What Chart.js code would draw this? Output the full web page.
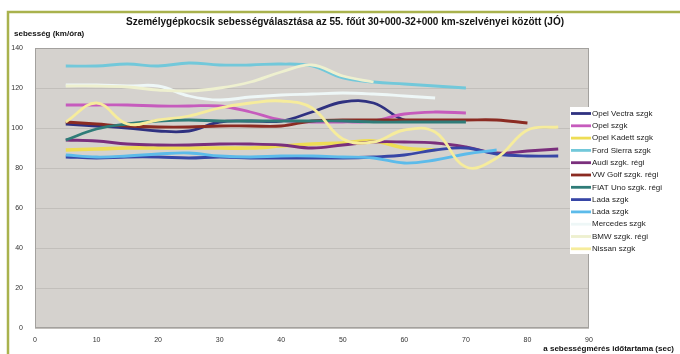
<!DOCTYPE html>
<html>
<head>
<meta charset="utf-8">
<title>Személygépkocsik sebességválasztása</title>
<script src="https://cdn.jsdelivr.net/npm/chart.js@4/dist/chart.umd.min.js"></script>
<style>
  html, body { margin: 0; padding: 0; background: #fff; }
  #speedChart { display: block; }
</style>
</head>
<body>
<canvas id="speedChart" width="680" height="354"></canvas>
<script>
// measuring times (sec) shared by every series
const seconds = [5, 10, 15, 20, 25, 30, 35, 40, 45, 50, 55, 60, 65, 70, 75, 80, 85];

// speeds (km/h); shorter series simply stop earlier
const opelVectra = [102, 101, 100, 98.5, 98.5, 103, 103.5, 103.5, 108, 113, 112.5, 104, 103.5];
const opel       = [111.5, 111.5, 111.5, 111, 111, 111, 108, 104, 103, 103, 103.5, 107, 108, 107.5];
const opelKadett = [89, 89.5, 90, 90, 90, 90, 90, 91, 92, 92.5, 93.5, 90, 89];
const fordSierra = [131, 131, 132, 131, 132.5, 131.5, 131.5, 132, 131, 125, 123, 122, 121, 120];
const audi       = [94, 93.5, 92, 91.5, 91.5, 92, 92, 91.5, 90, 91.5, 93, 93, 92.5, 90.5, 87.5, 88.5, 89.5];
const vwGolf     = [103, 102, 101, 100.5, 100.5, 101, 101, 101, 103.5, 104, 104, 104, 104, 104, 104, 102.5];
const fiatUno    = [94, 99.5, 102, 103.5, 104, 103.5, 103.5, 103.5, 103.5, 103.5, 103, 103, 103, 103];
const lada1      = [85.5, 85, 85.5, 85.5, 85, 85.5, 85, 85, 85, 85, 85.5, 86.5, 89, 90, 87, 86, 86];
const lada2      = [86.5, 85.5, 86, 87, 87.5, 86, 85.5, 86, 86, 85.5, 85, 82.5, 84, 87, 89];
const mercedes   = [121.5, 121.5, 121, 121, 116, 114, 115.5, 116.5, 117, 117.5, 117, 116, 115];
const bmw        = [121, 121, 120.5, 119, 118.5, 120, 123, 128, 131.5, 126, 123];
const nissan     = [103, 112.5, 102, 104, 106, 110, 112.5, 113.5, 110, 94.5, 93, 99, 98, 80.5, 85, 99, 100.5];

const xTicks = [0, 10, 20, 30, 40, 50, 60, 70, 80, 90];
const yTicks = [0, 20, 40, 60, 80, 100, 120, 140];

const series = [
  { label: 'Opel Vectra szgk',    values: opelVectra, color: '#2f3180', width: 2.8 },
  { label: 'Opel szgk',           values: opel,       color: '#c65bbd', width: 2.8 },
  { label: 'Opel Kadett szgk',    values: opelKadett, color: '#eedd55', width: 3.6 },
  { label: 'Ford Sierra szgk',    values: fordSierra, color: '#72c8da', width: 2.8 },
  { label: 'Audi szgk. régi',     values: audi,       color: '#7a2f7c', width: 2.8 },
  { label: 'VW Golf szgk. régi',  values: vwGolf,     color: '#8b2b22', width: 2.8 },
  { label: 'FIAT Uno szgk. régi', values: fiatUno,    color: '#2f7c78', width: 2.8 },
  { label: 'Lada szgk',           values: lada1,      color: '#3746a6', width: 2.8 },
  { label: 'Lada szgk',           values: lada2,      color: '#5cbbea', width: 2.8 },
  { label: 'Mercedes szgk',       values: mercedes,   color: '#eef7f7', width: 2.8 },
  { label: 'BMW szgk. régi',      values: bmw,        color: '#eef0cf', width: 2.8 },
  { label: 'Nissan szgk',         values: nissan,     color: '#f6ec9c', width: 2.8 }
];

const datasets = series.map((s, i) => ({
  label: s.label,
  data: s.values.map((v, k) => ({ x: seconds[k], y: v })),
  borderColor: s.color,
  backgroundColor: s.color,
  borderWidth: s.width,
  pointRadius: 0,
  tension: 0.4,
  fill: false,
  order: -i
}));

// gray plot area, olive frame and the thin box around the plot
const framePlugin = {
  id: 'frame',
  beforeDraw(chart) {
    const { ctx, chartArea: a } = chart;
    ctx.save();
    ctx.fillStyle = '#ffffff';
    ctx.fillRect(0, 0, chart.width, chart.height);
    ctx.fillStyle = '#d5d2ce';
    ctx.fillRect(a.left, a.top, a.right - a.left, a.bottom - a.top);
    ctx.strokeStyle = '#a9b24d';
    ctx.lineWidth = 2.5;
    ctx.beginPath();
    ctx.moveTo(8, chart.height);
    ctx.lineTo(8, 12);
    ctx.lineTo(chart.width, 12);
    ctx.stroke();
    ctx.restore();
  },
  afterDatasetsDraw(chart) {
    const { ctx, chartArea: a } = chart;
    ctx.save();
    ctx.strokeStyle = '#a3a19e';
    ctx.lineWidth = 1;
    ctx.strokeRect(a.left + 0.5, a.top + 0.5, a.right - a.left - 1, a.bottom - a.top - 1);
    ctx.restore();
  }
};

// title, axis captions and the legend box over the right edge of the plot
const textPlugin = {
  id: 'texts',
  afterDraw(chart) {
    const { ctx } = chart;
    ctx.save();
    ctx.fillStyle = '#111';
    ctx.textBaseline = 'middle';
    ctx.font = 'bold 10px "Liberation Sans", Arial, sans-serif';
    ctx.textAlign = 'center';
    ctx.fillText('Személygépkocsik sebességválasztása az 55. főút 30+000-32+000 km-szelvényei között (JÓ)', 345, 22);
    ctx.font = 'bold 8px "Liberation Sans", Arial, sans-serif';
    ctx.textAlign = 'left';
    ctx.fillText('sebesség (km/óra)', 14, 34);
    ctx.textAlign = 'right';
    ctx.fillText('a sebességmérés időtartama (sec)', 674, 349);

    const box = { x: 570, y: 107, w: 98, h: 147 };
    ctx.fillStyle = '#ffffff';
    ctx.fillRect(box.x, box.y, box.w, box.h);
    const rowH = 12.3;
    ctx.font = '8px "Liberation Sans", Arial, sans-serif';
    ctx.textAlign = 'left';
    chart.data.datasets.forEach((ds, i) => {
      const y = box.y + 6.5 + i * rowH;
      ctx.strokeStyle = ds.borderColor;
      ctx.lineWidth = 2.8;
      ctx.beginPath();
      ctx.moveTo(box.x + 1, y);
      ctx.lineTo(box.x + 21, y);
      ctx.stroke();
      ctx.fillStyle = '#222';
      ctx.fillText(ds.label, box.x + 22, y);
    });
    ctx.restore();
  }
};

new Chart(document.getElementById('speedChart'), {
  type: 'line',
  data: { datasets },
  options: {
    responsive: false,
    animation: false,
    devicePixelRatio: 1,
    layout: { padding: { top: 48, right: 91, left: 0, bottom: 0 } },
    plugins: {
      legend: { display: false },
      title: { display: false },
      tooltip: { enabled: false }
    },
    scales: {
      x: {
        type: 'linear',
        min: 0,
        max: 90,
        afterFit(scale) { scale.height = 26; },
        afterBuildTicks(scale) { scale.ticks = xTicks.map(v => ({ value: v })); },
        grid: { display: false, drawTicks: false },
        border: { display: false },
        ticks: {
          padding: 8,
          color: '#333',
          font: { size: 7, family: '"Liberation Sans", Arial, sans-serif' },
          maxRotation: 0
        }
      },
      y: {
        min: 0,
        max: 140,
        afterFit(scale) { scale.width = 35; },
        afterBuildTicks(scale) { scale.ticks = yTicks.map(v => ({ value: v })); },
        grid: { color: '#c2bfbb', lineWidth: 1, drawTicks: false },
        border: { display: false },
        ticks: {
          padding: 12,
          color: '#333',
          font: { size: 7, family: '"Liberation Sans", Arial, sans-serif' }
        }
      }
    }
  },
  plugins: [framePlugin, textPlugin]
});
</script>
</body>
</html>
